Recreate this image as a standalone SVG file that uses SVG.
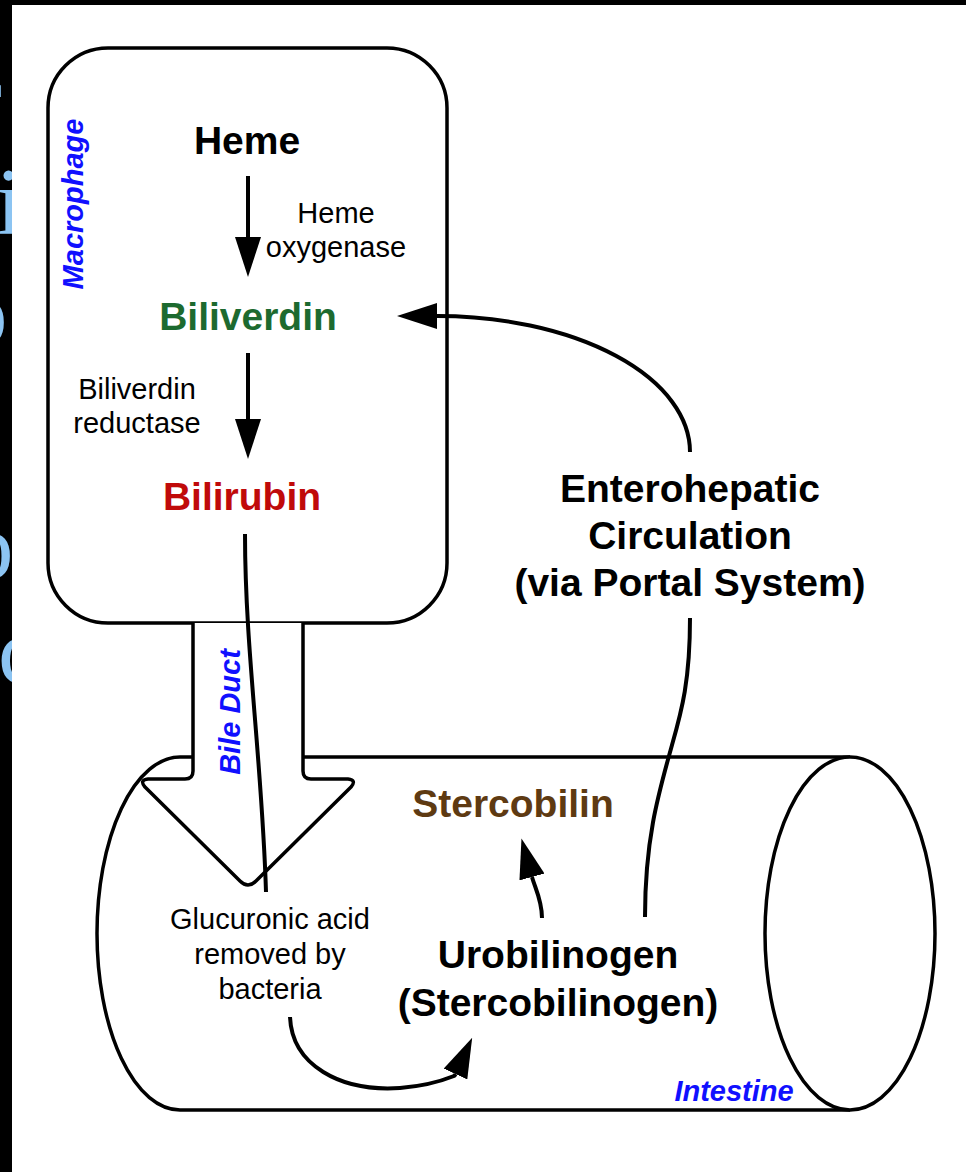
<svg xmlns="http://www.w3.org/2000/svg" width="966" height="1172" viewBox="0 0 966 1172">
<style>
.outline{fill:#fff;stroke:#000;stroke-width:3.5;stroke-linejoin:round}
.conn{fill:none;stroke:#000;stroke-width:4}
.big{font-family:"Liberation Sans",Arial,sans-serif;font-weight:bold;font-size:39px;text-anchor:middle}
.small{font-family:"Liberation Sans",Arial,sans-serif;font-size:29px;text-anchor:middle;fill:#000}
.lbl{font-family:"Liberation Sans",Arial,sans-serif;font-weight:bold;font-style:italic;font-size:29px;fill:#1010ff}
.frag{font-family:"Liberation Serif","Times New Roman",serif;font-size:95px;fill:#8cc4f2}
</style>
<defs>
<marker id="ah" markerUnits="userSpaceOnUse" markerWidth="40" markerHeight="26" viewBox="0 0 40 26" refX="0" refY="13" orient="auto"><path d="M0,0 L40,13 L0,26 z" fill="#000"/></marker>
<clipPath id="leftclip"><rect x="0" y="0" width="12" height="1172"/></clipPath>
</defs>
<rect x="0" y="0" width="966" height="1172" fill="#fff"/>
<rect x="0" y="0" width="966" height="5" fill="#000"/>
<rect x="0" y="0" width="12" height="1172" fill="#000"/>
<g clip-path="url(#leftclip)" class="frag">
<text x="-30" y="130">r</text>
<text x="-4" y="234">i</text>
<text x="-40" y="345">p</text>
<text x="-22" y="478">:</text>
<text x="-34" y="578">o</text>
<text x="-2" y="683">c</text>
</g>
<g id="intestine">
<path class="outline" d="M850,757 L180,757 A83,176.5 0 0 0 180,1110 L850,1110"/>
<ellipse class="outline" cx="850" cy="933.5" rx="85" ry="176.5"/>
<text class="lbl" x="734" y="1101" text-anchor="middle">Intestine</text>
</g>
<g id="macrophage">
<rect class="outline" x="48" y="48" width="399" height="575" rx="60" ry="60"/>
<text class="lbl" transform="translate(83,204) rotate(-90)" text-anchor="middle">Macrophage</text>
</g>
<g id="bile-duct">
<path class="outline" d="M193,623 L193,771 Q193,779 185,779 L148,779 Q139,780 145,787 L240,881 Q248,889 256,881 L351,787 Q357,780 348,779 L311,779 Q303,779 303,771 L303,623"/>
<text class="lbl" transform="translate(240,712) rotate(-90)" text-anchor="middle">Bile Duct</text>
</g>
<g id="heme"><text class="big" x="247" y="154" fill="#000">Heme</text></g>
<g id="biliverdin"><text class="big" x="248" y="330" fill="#1d6a2f">Biliverdin</text></g>
<g id="bilirubin"><text class="big" x="242" y="510" fill="#c00a0a">Bilirubin</text></g>
<g id="heme-oxygenase"><text class="small" x="336" y="223">Heme</text><text class="small" x="336" y="257">oxygenase</text></g>
<g id="biliverdin-reductase"><text class="small" x="137" y="399">Biliverdin</text><text class="small" x="137" y="433">reductase</text></g>
<g id="glucuronic"><text class="small" x="270" y="929">Glucuronic acid</text><text class="small" x="270" y="964">removed by</text><text class="small" x="270" y="999">bacteria</text></g>
<g id="stercobilin"><text class="big" x="513" y="817" fill="#5e3a12">Stercobilin</text></g>
<g id="urobilinogen"><text class="big" x="558" y="968" fill="#000">Urobilinogen</text><text class="big" x="558" y="1016" fill="#000">(Stercobilinogen)</text></g>
<g id="enterohepatic"><text class="big" x="690" y="502" fill="#000">Enterohepatic</text><text class="big" x="690" y="549" fill="#000">Circulation</text><text class="big" x="690" y="596" fill="#000">(via Portal System)</text></g>
<g id="connectors">
<path class="conn" d="M248,176 L248,237" marker-end="url(#ah)"/>
<path class="conn" d="M248,353 L248,419" marker-end="url(#ah)"/>
<path class="conn" d="M245,534 C245,650 262,760 266,892"/>
<path class="conn" d="M690,452 A253,136 0 0 0 437,316" marker-end="url(#ah)"/>
<path class="conn" d="M690,618 C690,680 682,710 672,745 C658,795 645,840 645,917"/>
<path class="conn" d="M542,918 C542,900 535,888 532,877" marker-end="url(#ah)"/>
<path class="conn" d="M290,1017 C292,1065 340,1092 400,1088 C425,1086 444,1080 454,1076 L455,1075 l0.46,-1" marker-end="url(#ah)"/>
</g>
</svg>
